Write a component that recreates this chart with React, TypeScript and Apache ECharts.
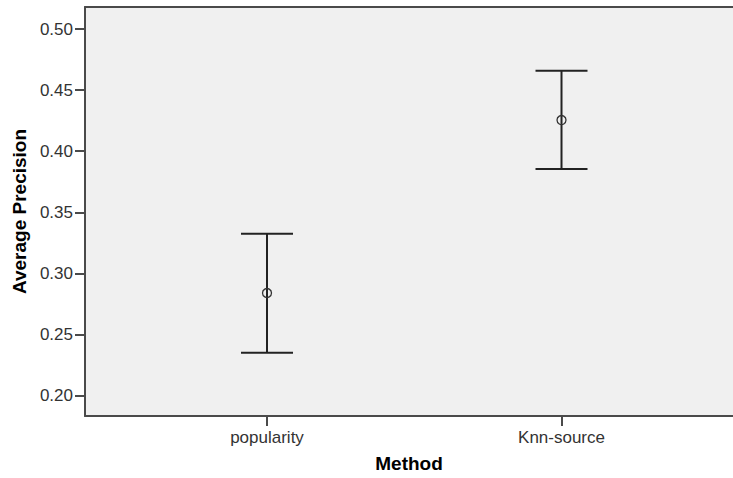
import React, { useEffect, useRef } from "react";
import * as echarts from "echarts";

const categories = ["popularity", "Knn-source"];
const means = [0.284, 0.4255];
const lowerCI = [0.2352, 0.3855];
const upperCI = [0.3325, 0.4658];
const yTicks = [0.2, 0.25, 0.3, 0.35, 0.4, 0.45, 0.5];

const FONT = 'Arial, "Liberation Sans", sans-serif';
const AXIS_COLOR = "#4a4a4a";

export default function App() {
  const ref = useRef<HTMLDivElement>(null);
  useEffect(() => {
    if (!ref.current) return;
    const chart = echarts.init(ref.current, undefined, { renderer: "svg" });
    const data = categories.map((c, i) => [i, means[i], lowerCI[i], upperCI[i]]);
    chart.setOption({
      animation: false,
      backgroundColor: "#ffffff",
      grid: {
        left: 85,
        top: 7,
        right: 0,
        height: 410,
        show: true,
        backgroundColor: "#f0f0f0",
        borderWidth: 0,
      },
      xAxis: [
        {
          type: "value",
          min: -0.618,
          max: 1.5823,
          splitLine: { show: false },
          axisLine: { show: true, onZero: false, lineStyle: { color: AXIS_COLOR, width: 2 } },
          axisTick: { show: true, length: 10, customValues: [0, 1], lineStyle: { color: AXIS_COLOR, width: 2 } },
          axisLabel: {
            customValues: [0, 1],
            formatter: (v: number) => categories[Math.round(v)] ?? "",
            margin: 13,
            color: "#333",
            fontSize: 17,
            fontFamily: FONT,
          },
          name: "Method",
          nameLocation: "middle",
          nameGap: 38,
          nameTextStyle: { color: "#000", fontSize: 19, fontWeight: "bold", fontFamily: FONT },
        },
        {
          type: "value",
          position: "top",
          min: -0.618,
          max: 1.5823,
          splitLine: { show: false },
          axisLine: { show: true, onZero: false, lineStyle: { color: AXIS_COLOR, width: 2 } },
          axisTick: { show: false },
          axisLabel: { show: false },
        },
      ],
      yAxis: {
        type: "value",
        min: 0.1834,
        max: 0.518,
        splitLine: { show: false },
        axisLine: { show: true, onZero: false, lineStyle: { color: AXIS_COLOR, width: 2 } },
        axisTick: { show: true, length: 10, customValues: yTicks, lineStyle: { color: AXIS_COLOR, width: 2 } },
        axisLabel: {
          customValues: yTicks,
          formatter: (v: number) => v.toFixed(2),
          margin: 12,
          color: "#333",
          fontSize: 17,
          fontFamily: FONT,
        },
        name: "Average Precision",
        nameLocation: "middle",
        nameGap: 47,
        nameTextStyle: { color: "#000", fontSize: 19, fontWeight: "bold", fontFamily: FONT },
      },
      series: [
        {
          type: "custom",
          data,
          xAxisIndex: 0,
          encode: { x: 0, y: [1, 2, 3] },
          renderItem: (params: any, api: any) => {
            const x = api.value(0);
            const pMean = api.coord([x, api.value(1)]);
            const pLow = api.coord([x, api.value(2)]);
            const pHigh = api.coord([x, api.value(3)]);
            const half = 26;
            const ls = { stroke: "#222", lineWidth: 2 };
            return {
              type: "group",
              children: [
                { type: "line", shape: { x1: pLow[0], y1: pLow[1], x2: pHigh[0], y2: pHigh[1] }, style: ls },
                { type: "line", shape: { x1: pLow[0] - half, y1: pLow[1], x2: pLow[0] + half, y2: pLow[1] }, style: ls },
                { type: "line", shape: { x1: pHigh[0] - half, y1: pHigh[1], x2: pHigh[0] + half, y2: pHigh[1] }, style: ls },
                {
                  type: "circle",
                  shape: { cx: pMean[0], cy: pMean[1], r: 4.5 },
                  style: { fill: "none", stroke: "#333", lineWidth: 1.3 },
                },
              ],
            };
          },
        },
      ],
    });
    return () => chart.dispose();
  }, []);
  return <div ref={ref} style={{ width: 733, height: 478, position: "absolute", left: 0, top: 0 }} />;
}
